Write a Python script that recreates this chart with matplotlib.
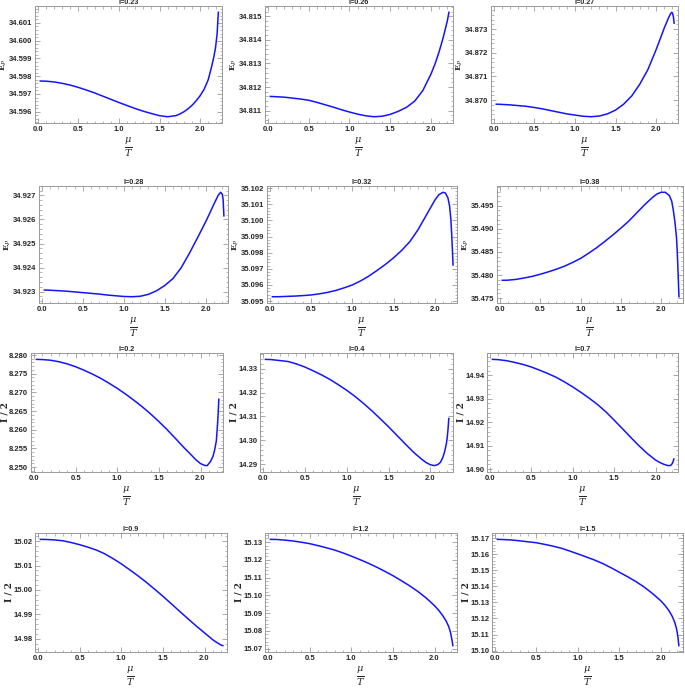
import matplotlib
matplotlib.use('Agg')
import matplotlib.pyplot as plt
from matplotlib.ticker import MultipleLocator, AutoMinorLocator, FormatStrFormatter

plt.rcParams['mathtext.fontset'] = 'dejavuserif'

# --- data ---
titles = ['I=0.23', 'I=0.26', 'I=0.27', 'I=0.28', 'I=0.32', 'I=0.38',
          'I=0.2', 'I=0.4', 'I=0.7', 'I=0.9', 'I=1.2', 'I=1.5']

mu1 = [0.03, 0.1, 0.2, 0.3, 0.4, 0.5, 0.6, 0.7, 0.8, 0.9, 1.0, 1.1, 1.2, 1.3, 1.4, 1.5, 1.6, 1.7,
       1.75, 1.8, 1.85, 1.9, 1.95, 2.0, 2.05, 2.1, 2.14, 2.17, 2.19, 2.21, 2.225]
ep1 = [34.59773, 34.59772, 34.59768, 34.59760, 34.59750, 34.59737, 34.59722, 34.59706, 34.59688,
       34.59670, 34.59652, 34.59635, 34.59618, 34.59603, 34.59590, 34.59578, 34.59572, 34.59578,
       34.59587, 34.59600, 34.59616, 34.59636, 34.59661, 34.59690, 34.59727, 34.59780, 34.59850,
       34.59910, 34.59960, 34.60040, 34.60160]

mu2 = [0.03, 0.1, 0.2, 0.3, 0.4, 0.5, 0.6, 0.7, 0.8, 0.9, 1.0, 1.1, 1.2, 1.3, 1.4, 1.5, 1.6, 1.7,
       1.8, 1.9, 2.0, 2.05, 2.1, 2.15, 2.2, 2.22]
ep2 = [34.81160, 34.81159, 34.81157, 34.81153, 34.81149, 34.81144, 34.81135, 34.81125, 34.81115,
       34.81104, 34.81094, 34.81085, 34.81078, 34.81074, 34.81076, 34.81084, 34.81097, 34.81114,
       34.81140, 34.81185, 34.81255, 34.81298, 34.81350, 34.81410, 34.81480, 34.81517]

mu3 = [0.03, 0.1, 0.2, 0.3, 0.4, 0.5, 0.6, 0.7, 0.8, 0.9, 1.0, 1.1, 1.2, 1.3, 1.4, 1.5, 1.6, 1.7,
       1.8, 1.9, 2.0, 2.05, 2.1, 2.15, 2.18, 2.195, 2.205, 2.215, 2.222]
ep3 = [34.86983, 34.86982, 34.86980, 34.86977, 34.86974, 34.86969, 34.86963, 34.86956, 34.86949,
       34.86942, 34.86937, 34.86932, 34.86930, 34.86933, 34.86942, 34.86958, 34.86983, 34.87018,
       34.87068, 34.87130, 34.87213, 34.87258, 34.87304, 34.87345, 34.87366, 34.87371, 34.87365,
       34.87348, 34.87325]

mu4 = [0.03, 0.1, 0.2, 0.3, 0.4, 0.5, 0.6, 0.7, 0.8, 0.9, 1.0, 1.1, 1.2, 1.3, 1.4, 1.5, 1.6, 1.7,
       1.8, 1.9, 2.0, 2.05, 2.1, 2.15, 2.18, 2.2, 2.21, 2.22]
ep4 = [34.92307, 34.92306, 34.92304, 34.92302, 34.92299, 34.92296, 34.92293, 34.92290, 34.92286,
       34.92283, 34.92280, 34.92279, 34.92281, 34.92289, 34.92304, 34.92326, 34.92355, 34.92400,
       34.92460, 34.92525, 34.92592, 34.92628, 34.92665, 34.92700, 34.92713, 34.92705, 34.92685,
       34.92615]

mu5 = [0.03, 0.1, 0.2, 0.3, 0.4, 0.5, 0.6, 0.7, 0.8, 0.9, 1.0, 1.1, 1.2, 1.3, 1.4, 1.5, 1.6, 1.7,
       1.8, 1.9, 2.0, 2.05, 2.1, 2.13, 2.16, 2.18, 2.195, 2.205, 2.215, 2.222]
ep5 = [35.09527, 35.09527, 35.09529, 35.09531, 35.09534, 35.09538, 35.09545, 35.09554, 35.09566,
       35.09582, 35.09600, 35.09625, 35.09655, 35.09690, 35.09727, 35.09768, 35.09815, 35.09870,
       35.09945, 35.10035, 35.10125, 35.10160, 35.10175, 35.10170, 35.10140, 35.10090, 35.10010,
       35.09920, 35.09810, 35.09724]

mu6 = [0.03, 0.1, 0.2, 0.3, 0.4, 0.5, 0.6, 0.7, 0.8, 0.9, 1.0, 1.1, 1.2, 1.3, 1.4, 1.5, 1.6, 1.7,
       1.8, 1.9, 1.95, 2.0, 2.05, 2.1, 2.13, 2.15, 2.17, 2.19, 2.2, 2.21, 2.22]
ep6 = [35.47885, 35.47888, 35.47905, 35.47935, 35.47970, 35.48016, 35.48068, 35.48125, 35.48190,
       35.48270, 35.48358, 35.48470, 35.48590, 35.48725, 35.48865, 35.49013, 35.49170, 35.49350,
       35.49530, 35.49690, 35.49755, 35.49790, 35.49790, 35.49720, 35.49600, 35.49400, 35.49150,
       35.48800, 35.48450, 35.48000, 35.47530]

mu7 = [0.03, 0.1, 0.2, 0.3, 0.4, 0.5, 0.6, 0.7, 0.8, 0.9, 1.0, 1.1, 1.2, 1.3, 1.4, 1.5, 1.6, 1.7,
       1.8, 1.9, 1.95, 2.0, 2.05, 2.08, 2.12, 2.15, 2.17, 2.19, 2.2, 2.21, 2.22]
ip7 = [8.27883, 8.27878, 8.27860, 8.27820, 8.27762, 8.27687, 8.27594, 8.27492, 8.27378, 8.27248,
       8.27108, 8.26955, 8.26790, 8.26615, 8.26425, 8.26219, 8.26000, 8.25765, 8.25525, 8.25300,
       8.25185, 8.25095, 8.25045, 8.25040, 8.25150, 8.25290, 8.25463, 8.25700, 8.26000, 8.26350,
       8.26815]

mu8 = [0.03, 0.1, 0.2, 0.3, 0.4, 0.5, 0.6, 0.7, 0.8, 0.9, 1.0, 1.1, 1.2, 1.3, 1.4, 1.5, 1.6, 1.7,
       1.8, 1.9, 1.95, 2.0, 2.05, 2.09, 2.12, 2.15, 2.17, 2.19, 2.2, 2.21, 2.22]
ip8 = [14.33389, 14.33380, 14.33340, 14.33300, 14.33200, 14.33070, 14.32910, 14.32740, 14.32550,
       14.32330, 14.32097, 14.31840, 14.31550, 14.31240, 14.30910, 14.30570, 14.30210, 14.29850,
       14.29500, 14.29200, 14.29070, 14.28980, 14.28944, 14.28990, 14.29083, 14.29300, 14.29528,
       14.29850, 14.30083, 14.30450, 14.30917]

mu9 = [0.03, 0.1, 0.2, 0.3, 0.4, 0.5, 0.6, 0.7, 0.8, 0.9, 1.0, 1.1, 1.2, 1.3, 1.4, 1.5, 1.6, 1.7,
       1.8, 1.9, 2.0, 2.05, 2.1, 2.15, 2.18, 2.2, 2.21, 2.22]
ip9 = [14.94681, 14.94670, 14.94625, 14.94550, 14.94465, 14.94355, 14.94220, 14.94075, 14.93915,
       14.93720, 14.93504, 14.93270, 14.93020, 14.92750, 14.92440, 14.92085, 14.91720, 14.91350,
       14.90990, 14.90660, 14.90383, 14.90280, 14.90200, 14.90145, 14.90150, 14.90230, 14.90310,
       14.90426]

mu10 = [0.03, 0.1, 0.2, 0.3, 0.4, 0.5, 0.6, 0.7, 0.8, 0.9, 1.0, 1.1, 1.2, 1.3, 1.4, 1.5, 1.6, 1.7,
        1.8, 1.9, 2.0, 2.1, 2.15, 2.2, 2.22]
ip10 = [15.02070, 15.02066, 15.02048, 15.02013, 15.01940, 15.01853, 15.01752, 15.01635, 15.01483,
        15.01287, 15.01070, 15.00830, 15.00582, 15.00317, 15.00034, 14.99743, 14.99438, 14.99129,
        14.98825, 14.98525, 14.98242, 14.97959, 14.97842, 14.97742, 14.97720]

mu11 = [0.03, 0.1, 0.2, 0.3, 0.4, 0.5, 0.6, 0.7, 0.8, 0.9, 1.0, 1.1, 1.2, 1.3, 1.4, 1.5, 1.6, 1.7,
        1.8, 1.9, 2.0, 2.05, 2.1, 2.14, 2.17, 2.19, 2.2, 2.21, 2.22]
ip11 = [15.13150, 15.13145, 15.13110, 15.13060, 15.12990, 15.12910, 15.12800, 15.12680, 15.12550,
        15.12390, 15.12210, 15.12020, 15.11820, 15.11600, 15.11360, 15.11110, 15.10830, 15.10540,
        15.10220, 15.09850, 15.09420, 15.09160, 15.08850, 15.08550, 15.08250, 15.07950, 15.07720,
        15.07480, 15.07170]

mu12 = [0.03, 0.1, 0.2, 0.3, 0.4, 0.5, 0.6, 0.7, 0.8, 0.9, 1.0, 1.1, 1.2, 1.3, 1.4, 1.5, 1.6, 1.7,
        1.8, 1.9, 2.0, 2.05, 2.1, 2.14, 2.17, 2.19, 2.2, 2.21, 2.22]
ip12 = [15.16920, 15.16910, 15.16880, 15.16830, 15.16770, 15.16710, 15.16610, 15.16500, 15.16370,
        15.16200, 15.16020, 15.15830, 15.15640, 15.15420, 15.15160, 15.14880, 15.14600, 15.14300,
        15.13960, 15.13560, 15.13110, 15.12830, 15.12490, 15.12130, 15.11760, 15.11400, 15.11140,
        15.10800, 15.10310]

mus = [mu1, mu2, mu3, mu4, mu5, mu6, mu7, mu8, mu9, mu10, mu11, mu12]
vals = [ep1, ep2, ep3, ep4, ep5, ep6, ip7, ip8, ip9, ip10, ip11, ip12]

# tick step and label format per panel
ysteps = [0.001] * 5 + [0.005, 0.005] + [0.01] * 5
yfmts = ['%.3f'] * 7 + ['%.2f'] * 5

# axes boxes in pixels: left, right, top, bottom
boxes = [(35, 222, 6, 123), (265, 453, 6, 123), (491, 678, 6, 123),
         (39, 228, 186, 303), (267, 457, 186, 303), (497, 683, 186, 303),
         (31, 223, 353, 472), (260, 453, 353, 472), (487, 678, 353, 472),
         (35, 227, 533, 652), (265, 457, 533, 652), (492, 683, 533, 652)]

W, H = 685, 688
fig = plt.figure(figsize=(W / 100, H / 100), dpi=100)
frame = '#9a9a9a'
txt = '#262626'

for i in range(12):
    l, r, t, b = boxes[i]
    ax = fig.add_axes([l / W, 1 - b / H, (r - l) / W, (b - t) / H])
    ax.plot(mus[i], vals[i], color='#1414ff', lw=1.1)
    ax.set_xlim(-0.035, 2.27)
    ax.margins(y=0.06)
    ax.xaxis.set_major_locator(MultipleLocator(0.5))
    ax.xaxis.set_minor_locator(AutoMinorLocator(5))
    ax.xaxis.set_major_formatter(FormatStrFormatter('%.1f'))
    ax.yaxis.set_major_locator(MultipleLocator(ysteps[i]))
    ax.yaxis.set_minor_locator(AutoMinorLocator(5))
    ax.yaxis.set_major_formatter(FormatStrFormatter(yfmts[i]))
    ax.tick_params(which='both', direction='in', top=True, right=True, color=frame,
                   labelsize=5.5, labelcolor=txt, pad=2)
    ax.tick_params(which='major', length=3.5, width=0.6)
    ax.tick_params(which='minor', length=1.8, width=0.5)
    for lab in ax.get_xticklabels() + ax.get_yticklabels():
        lab.set_fontweight('bold')
        lab.set_family('Liberation Sans')
    for s in ax.spines.values():
        s.set_color(frame)
        s.set_linewidth(0.7)
    ax.set_title(titles[i], fontsize=5.2, fontweight='bold', color=txt, pad=0.6,
                 family='Liberation Sans')
    ax.set_xlabel(r'$\frac{\mu}{T}$', fontsize=10, color=txt, labelpad=2)
    if i < 6:
        ax.set_ylabel(r'$\mathbf{E}_{P}$', fontsize=6, color=txt, labelpad=0)
    else:
        ax.set_ylabel('I / 2', fontsize=6.5, color=txt, fontweight='bold', labelpad=0,
                      family='DejaVu Serif')

fig.savefig('out.png', dpi=100)
